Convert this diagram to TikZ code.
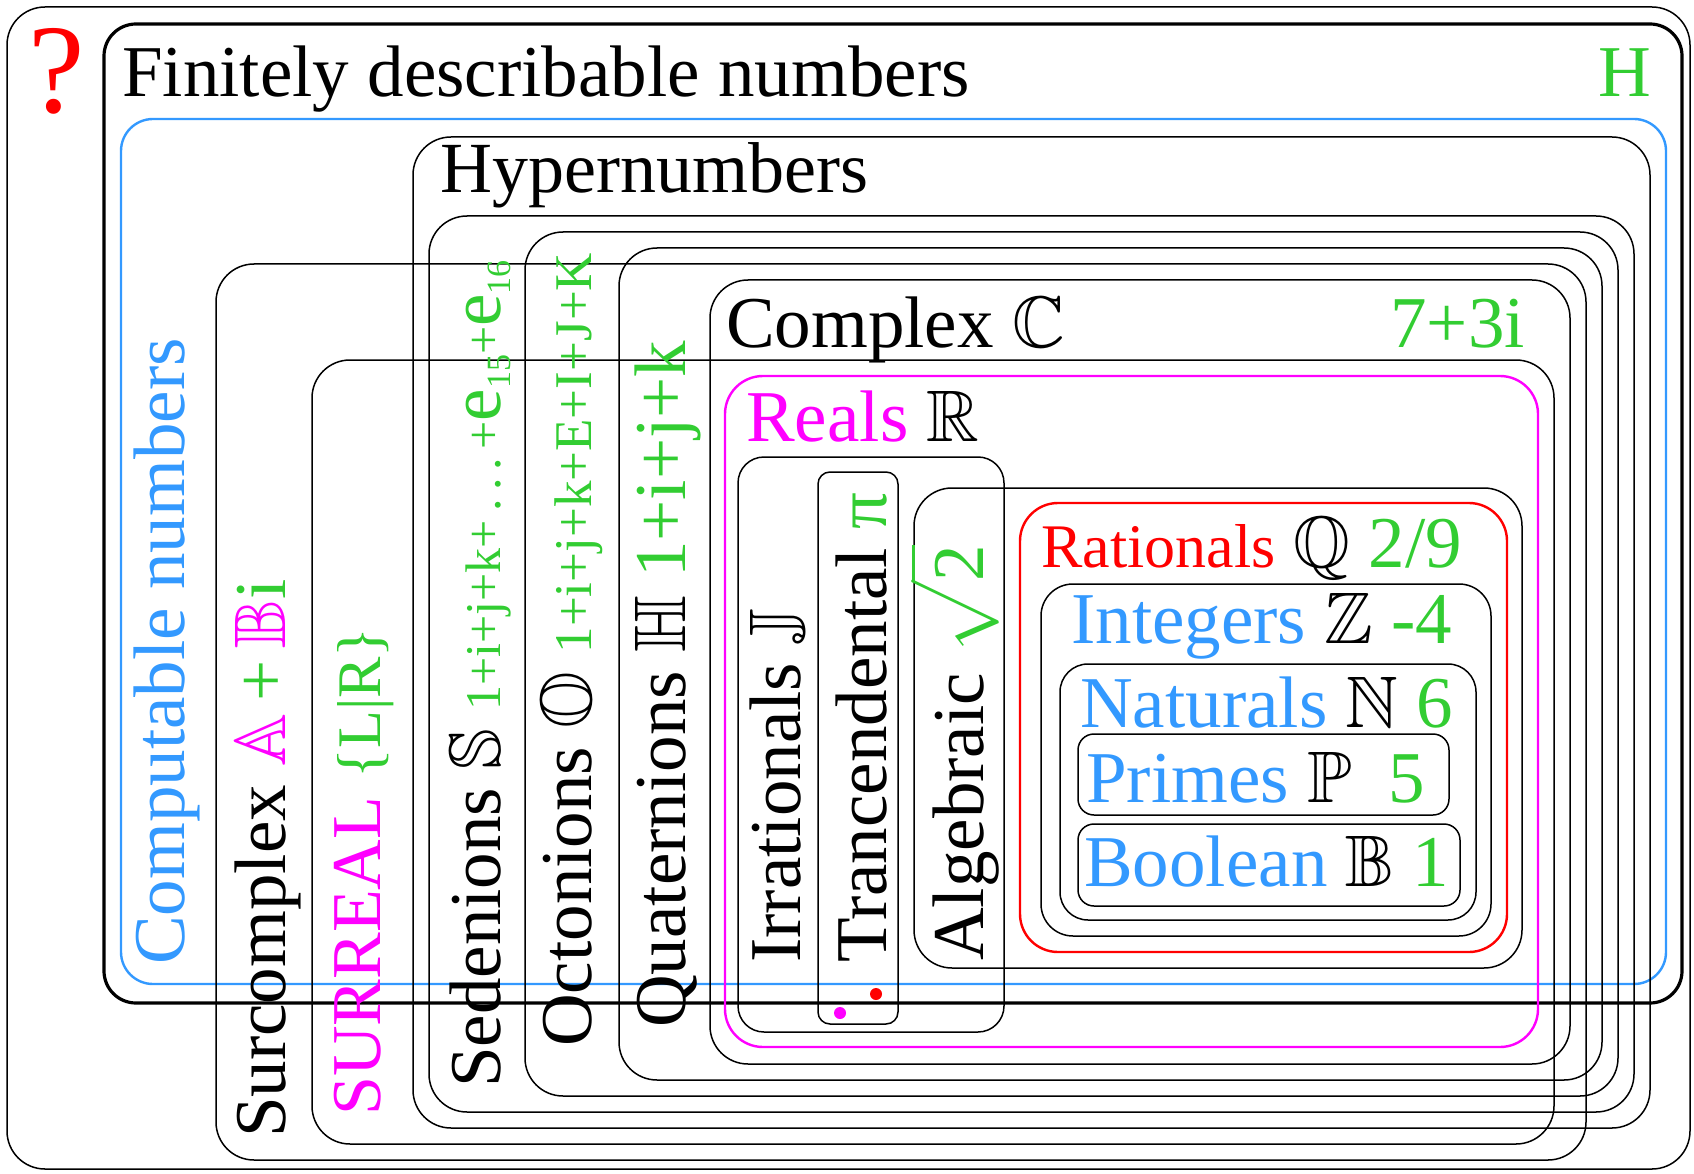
\documentclass[tikz,border=0pt]{standalone}
\usepackage{amssymb}
\usepackage{fontspec}
\setmainfont{Liberation Serif}
\definecolor{numblue}{RGB}{51,153,255}
\definecolor{numgreen}{RGB}{50,205,50}
\definecolor{nummag}{RGB}{255,0,255}
\newcommand{\fs}[1]{\fontsize{#1}{#1}\selectfont}
\begin{document}
\begin{tikzpicture}[x=1pt,y=-1pt]
	\tikzstyle{Box} = [draw, line width=1.5pt, rounded corners=38pt]
	\tikzstyle{Label} = [inner sep=0pt, font=\fs{73}]
	\tikzstyle{Flat} = [Label, anchor=base west]
	\tikzstyle{Up} = [Label, rotate=90, anchor=base west]
	\useasboundingbox (0,0) rectangle (1694,1174);
	\draw [Box] (7,7) rectangle (1690,1169);
	\draw [Box, line width=3.2pt, rounded corners=32pt] (104,24) rectangle (1682,1003);
	\draw [Box, numblue, line width=2.4pt, rounded corners=32pt] (121,119) rectangle (1666,984);
	\draw [Box] (413,137) rectangle (1650,1128);
	\draw [Box] (429,216) rectangle (1634,1112);
	\draw [Box] (525,232) rectangle (1618,1096);
	\draw [Box] (619,248) rectangle (1602,1080);
	\draw [Box] (216,264) rectangle (1586,1160);
	\draw [Box] (710,280) rectangle (1570,1064);
	\draw [Box] (312,360) rectangle (1554,1144);
	\draw [Box, nummag, line width=2.4pt] (725,376) rectangle (1538,1047);
	\draw [Box, rounded corners=26pt] (738,457) rectangle (1004,1032);
	\draw [Box, rounded corners=12pt] (818,472) rectangle (898,1024);
	\draw [Box] (914,488) rectangle (1522,968);
	\draw [Box, red, line width=2.4pt] (1020,503) rectangle (1507,952);
	\draw [Box, rounded corners=32pt] (1041,584) rectangle (1491,936);
	\draw [Box, rounded corners=28pt] (1060,664) rectangle (1476,920);
	\draw [Box, rounded corners=16pt] (1078,734) rectangle (1449,815);
	\draw [Box, rounded corners=16pt] (1078,824) rectangle (1460,906);
	\fill [nummag] (840,1013) circle (6pt);
	\fill [red] (876,994) circle (6pt);
	\node (q) at (57,113) [Label, red, anchor=base, font=\fs{127}] {?};
	\node (fin) at (122,97) [Flat] {Finitely describable numbers};
	\node (h) at (1651,97) [Label, numgreen, anchor=base east] {H};
	\node (comp) at (184,965) [Up, numblue] {Computable numbers};
	\node (hyp) at (440,193) [Flat, font=\fs{72}] {Hypernumbers};
	\node (surc) at (285,1138) [Up] {Surcomplex \textcolor{nummag}{$\mathbb{A}$}\,\textcolor{numgreen}{+}\,\textcolor{nummag}{$\mathbb{B}$}\textcolor{numgreen}{i}};
	\node (surr) at (380,1116) [Up] {\textcolor{nummag}{\fs{70}SURREAL} \textcolor{numgreen}{\fs{62}\{L|R\}}};
	\node (sed) at (500,1088) [Up] {Sedenions $\mathbb{S}$ \textcolor{numgreen}{{\fs{50}1+i+j+k+\,.\,.\,.\,+}e{\fs{34}\raisebox{-10pt}{15}}{\fs{50}+}e{\fs{34}\raisebox{-10pt}{16}}}};
	\node (oct) at (591,1047) [Up] {Octonions $\mathbb{O}$ \textcolor{numgreen}{\fs{53}1+i+j+k+E+I+J+K}};
	\node (quat) at (685,1028) [Up] {Quaternions $\mathbb{H}$ \textcolor{numgreen}{1+i+j+k}};
	\node (cplx) at (726,347) [Flat] {Complex $\mathbb{C}$};
	\node (cval) at (1525,347) [Label, numgreen, anchor=base east] {7+3i};
	\node (real) at (746,441) [Flat] {\textcolor{nummag}{Reals} $\mathbb{R}$};
	\node (irr) at (800,963) [Up] {Irrationals $\mathbb{J}$};
	\node (tra) at (886,963) [Up] {Trancendental \textcolor{numgreen}{π}};
	\node (alg) at (983,961) [Up] {Algebraic \textcolor{numgreen}{$\sqrt{\mbox{2}}$}};
	\node (rat) at (1041,567) [Flat] {\textcolor{red}{\fs{62}Rationals} $\mathbb{Q}$ \textcolor{numgreen}{2/9}};
	\node (int) at (1071,643) [Flat] {\textcolor{numblue}{Integers} $\mathbb{Z}$ \textcolor{numgreen}{-4}};
	\node (nat) at (1080,727) [Flat] {\textcolor{numblue}{Naturals} $\mathbb{N}$ \textcolor{numgreen}{6}};
	\node (pri) at (1086,802) [Flat] {\textcolor{numblue}{Primes} $\mathbb{P}$\ \ \textcolor{numgreen}{5}};
	\node (boo) at (1084,886) [Flat] {\textcolor{numblue}{Boolean} $\mathbb{B}$ \textcolor{numgreen}{1}};
\end{tikzpicture}
\end{document}
